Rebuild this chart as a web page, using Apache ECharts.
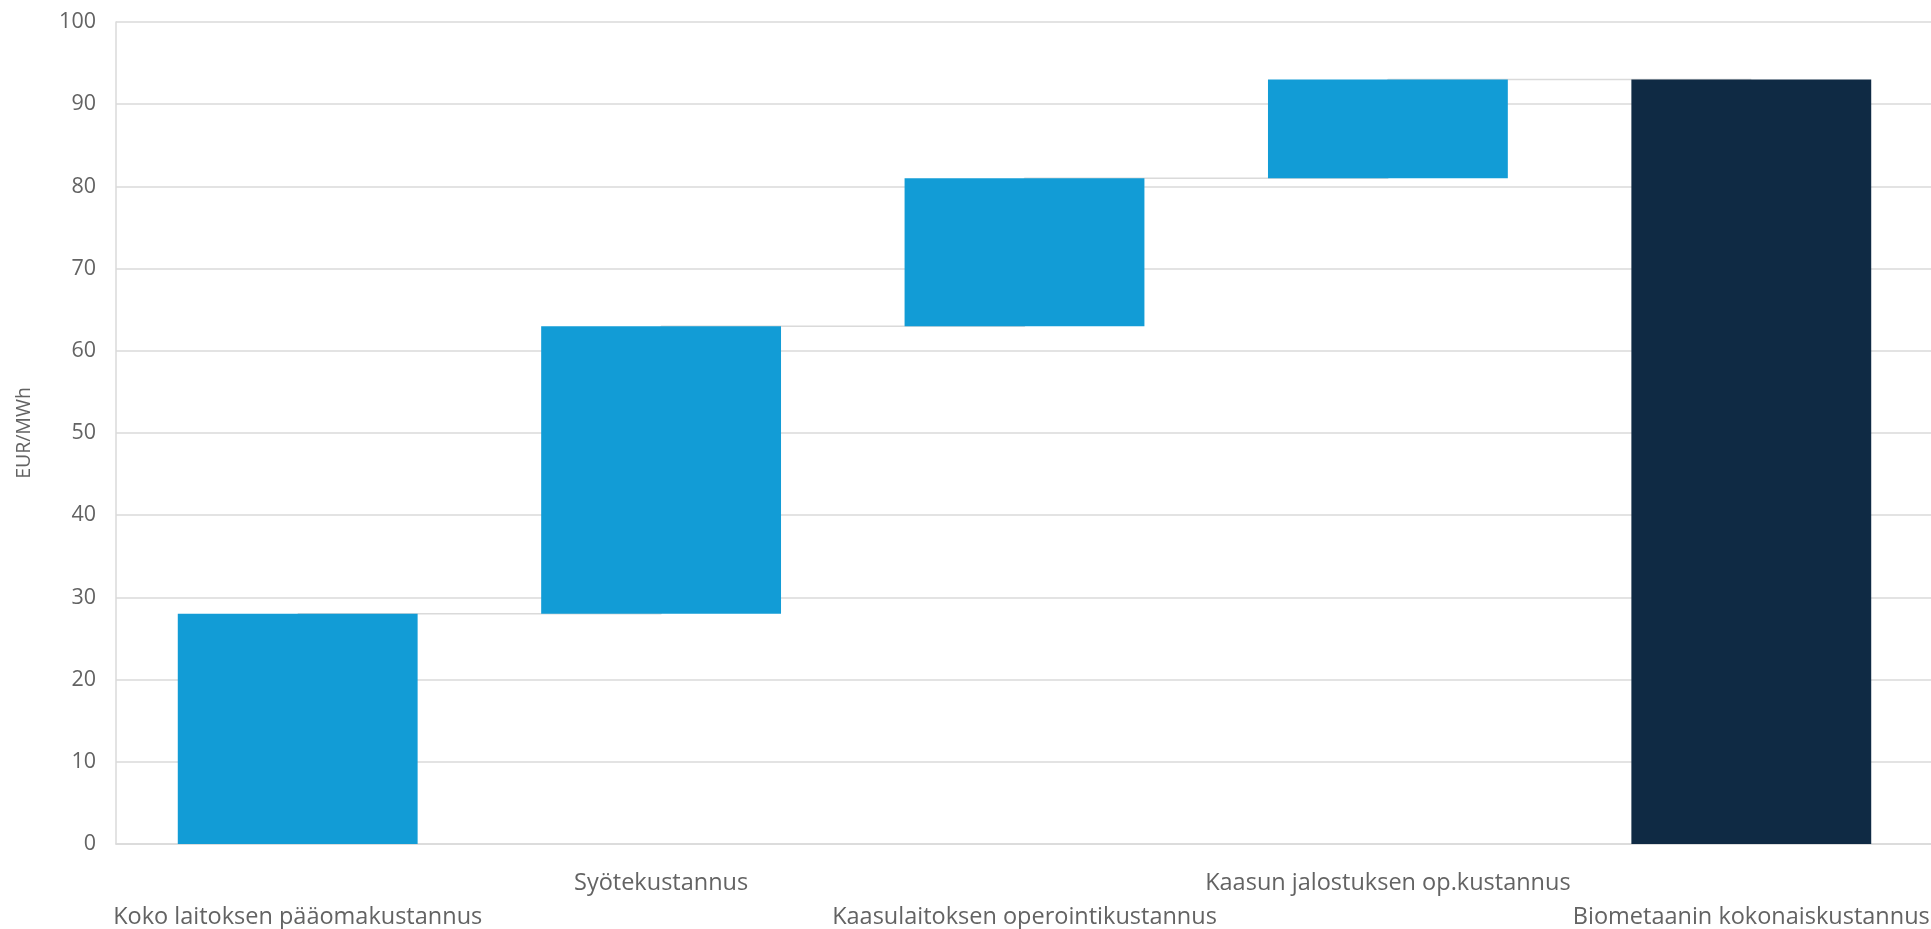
<!DOCTYPE html>
<html>
<head>
<meta charset="utf-8">
<title>Biometaanin kustannusrakenne</title>
<script src="https://cdn.jsdelivr.net/npm/echarts@6/dist/echarts.min.js"></script>
<style>
  html, body { margin: 0; padding: 0; background: #ffffff; }
  #chart { width: 1931px; height: 929px; }
</style>
</head>
<body>
<div id="chart"></div>
<script>
// Cost components (EUR/MWh) building up to the total biomethane cost
const categories = [
  'Koko laitoksen pääomakustannus',
  'Syötekustannus',
  'Kaasulaitoksen operointikustannus',
  'Kaasun jalostuksen op.kustannus',
  'Biometaanin kokonaiskustannus'
];
const costSteps = [28, 35, 18, 12];
const yTicks = { min: 0, max: 100, step: 10 };
const axisTitle = 'EUR/MWh';

// Waterfall helpers: invisible base + visible step, final bar is the running total
const total = costSteps.reduce((a, b) => a + b, 0);
const baseValues = [];
const tops = [];
let running = 0;
costSteps.forEach(v => { baseValues.push(running); running += v; tops.push(running); });
baseValues.push(0);
tops.push(total);

const stepColor = '#129CD6';
const totalColor = '#0F2A44';
const visibleValues = costSteps.map(v => ({ value: v, itemStyle: { color: stepColor } }));
visibleValues.push({ value: total, itemStyle: { color: totalColor } });

const textColor = '#636363';
const gridColor = '#DADADA';
const font = '"Open Sans", "Noto Sans", sans-serif';

const chart = echarts.init(document.getElementById('chart'), null, { renderer: 'canvas' });
chart.setOption({
  animation: false,
  backgroundColor: '#ffffff',
  grid: {
    left: 116, right: -2, top: 22, bottom: 85,
    containLabel: false,
    outerBoundsMode: 'none'
  },
  xAxis: {
    type: 'category',
    data: categories,
    axisLine: { show: true, lineStyle: { color: gridColor, width: 1.5 } },
    axisTick: { show: false },
    axisLabel: {
      interval: 0,
      margin: 22,
      color: textColor,
      fontFamily: font,
      fontSize: 23.5,
      lineHeight: 34,
      formatter: (v, i) => (i % 2 === 0 ? '\n' + v : v)
    }
  },
  yAxis: {
    type: 'value',
    min: yTicks.min,
    max: yTicks.max,
    interval: yTicks.step,
    name: axisTitle,
    nameLocation: 'middle',
    nameGap: 82,
    nameTextStyle: { color: textColor, fontFamily: font, fontSize: 19.5 },
    axisLine: { show: true, lineStyle: { color: gridColor, width: 1.5 } },
    axisTick: { show: false },
    axisLabel: { color: textColor, fontFamily: font, fontSize: 21.5, margin: 20 },
    splitLine: { show: true, lineStyle: { color: gridColor, width: 1.5 } }
  },
  series: [
    {
      name: 'connector',
      type: 'line',
      step: 'end',
      data: tops,
      showSymbol: false,
      silent: true,
      z: 1,
      lineStyle: { color: gridColor, width: 1.5 }
    },
    {
      name: 'base',
      type: 'bar',
      stack: 'wf',
      data: baseValues,
      itemStyle: { color: 'transparent' },
      barCategoryGap: '34%',
      silent: true,
      z: 2
    },
    {
      name: 'cost',
      type: 'bar',
      stack: 'wf',
      data: visibleValues,
      barCategoryGap: '34%',
      z: 3
    }
  ]
});
</script>
</body>
</html>
